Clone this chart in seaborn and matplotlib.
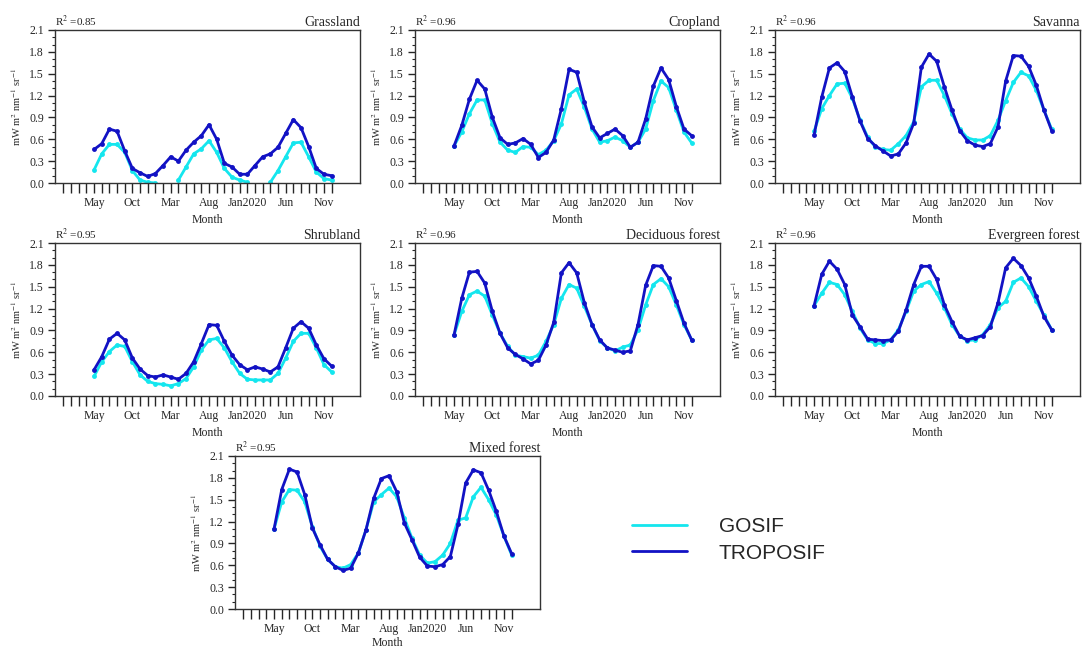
import numpy as np
import pandas as pd
import matplotlib
matplotlib.use('Agg')
import matplotlib.pyplot as plt
from matplotlib.ticker import MultipleLocator, FixedLocator
from matplotlib.lines import Line2D
import seaborn as sns

# ==================== data ====================
# month index: 0 = Jan 2018 ... 35 = Dec 2020, series run May 2018 - Dec 2020
months = list(range(4, 36))
tick_pos = [4, 9, 14, 19, 24, 29, 34]
tick_labels = ['May', 'Oct', 'Mar', 'Aug', 'Jan2020', 'Jun', 'Nov']

land_types = ['Grassland', 'Cropland', 'Savanna', 'Shrubland',
              'Deciduous forest', 'Evergreen forest', 'Mixed forest']
r2_values = [0.85, 0.96, 0.96, 0.95, 0.96, 0.96, 0.95]

nan = np.nan
gosif_grassland = [0.18, 0.40, 0.53, 0.53, 0.42, 0.17, 0.04, 0.01, 0.00, nan, nan, 0.04,
                   0.22, 0.40, 0.47, 0.58, 0.42, 0.20, 0.08, 0.04, 0.01, nan, nan, 0.01,
                   0.17, 0.36, 0.55, 0.56, 0.36, 0.15, 0.06, 0.04]
tropo_grassland = [0.46, 0.54, 0.74, 0.71, 0.44, 0.20, 0.14, 0.09, 0.13, 0.24, 0.36, 0.30,
                   0.45, 0.56, 0.65, 0.80, 0.60, 0.27, 0.22, 0.12, 0.12, 0.24, 0.36, 0.40,
                   0.49, 0.68, 0.87, 0.76, 0.50, 0.20, 0.12, 0.10]

gosif_cropland = [0.51, 0.70, 0.95, 1.14, 1.14, 0.81, 0.56, 0.45, 0.42, 0.50, 0.49, 0.39,
                  0.45, 0.58, 0.81, 1.21, 1.29, 1.04, 0.74, 0.56, 0.58, 0.63, 0.58, 0.49,
                  0.56, 0.74, 1.13, 1.40, 1.31, 1.00, 0.70, 0.55]
tropo_cropland = [0.51, 0.79, 1.15, 1.41, 1.29, 0.90, 0.62, 0.53, 0.55, 0.61, 0.53, 0.35,
                  0.42, 0.59, 1.02, 1.56, 1.52, 1.11, 0.77, 0.62, 0.68, 0.74, 0.65, 0.49,
                  0.56, 0.88, 1.33, 1.58, 1.42, 1.05, 0.74, 0.65]

gosif_savanna = [0.71, 1.02, 1.20, 1.36, 1.37, 1.16, 0.86, 0.63, 0.49, 0.46, 0.45, 0.54,
                 0.65, 0.84, 1.32, 1.41, 1.41, 1.20, 0.95, 0.74, 0.62, 0.59, 0.59, 0.65,
                 0.86, 1.13, 1.38, 1.52, 1.47, 1.27, 1.00, 0.74]
tropo_savanna = [0.66, 1.18, 1.58, 1.65, 1.53, 1.18, 0.85, 0.61, 0.51, 0.44, 0.37, 0.40,
                 0.55, 0.82, 1.59, 1.77, 1.67, 1.32, 1.00, 0.72, 0.58, 0.52, 0.50, 0.54,
                 0.77, 1.40, 1.75, 1.74, 1.60, 1.34, 1.00, 0.72]

gosif_shrubland = [0.27, 0.47, 0.61, 0.70, 0.68, 0.47, 0.29, 0.20, 0.17, 0.16, 0.14, 0.17,
                   0.24, 0.40, 0.63, 0.77, 0.79, 0.66, 0.47, 0.31, 0.23, 0.22, 0.22, 0.22,
                   0.31, 0.52, 0.75, 0.86, 0.86, 0.66, 0.43, 0.33]
tropo_shrubland = [0.36, 0.54, 0.78, 0.86, 0.77, 0.52, 0.37, 0.28, 0.26, 0.29, 0.26, 0.23,
                   0.31, 0.47, 0.72, 0.98, 0.97, 0.75, 0.56, 0.43, 0.36, 0.40, 0.37, 0.33,
                   0.40, 0.66, 0.93, 1.02, 0.93, 0.70, 0.51, 0.41]

gosif_deciduous = [0.84, 1.16, 1.39, 1.44, 1.37, 1.11, 0.86, 0.68, 0.56, 0.54, 0.52, 0.56,
                   0.75, 0.98, 1.34, 1.53, 1.48, 1.23, 0.98, 0.76, 0.66, 0.62, 0.67, 0.70,
                   0.91, 1.25, 1.53, 1.61, 1.50, 1.25, 0.98, 0.77]
tropo_deciduous = [0.84, 1.34, 1.70, 1.71, 1.55, 1.16, 0.86, 0.66, 0.57, 0.51, 0.44, 0.49,
                   0.70, 1.01, 1.69, 1.83, 1.69, 1.28, 0.98, 0.77, 0.66, 0.63, 0.60, 0.62,
                   0.98, 1.52, 1.79, 1.78, 1.62, 1.31, 1.00, 0.77]

gosif_evergreen = [1.24, 1.41, 1.56, 1.53, 1.39, 1.16, 0.93, 0.77, 0.72, 0.72, 0.77, 0.91,
                   1.16, 1.44, 1.53, 1.57, 1.41, 1.21, 0.98, 0.82, 0.76, 0.77, 0.84, 0.98,
                   1.21, 1.30, 1.56, 1.62, 1.50, 1.30, 1.11, 0.91]
tropo_evergreen = [1.24, 1.67, 1.85, 1.74, 1.53, 1.11, 0.95, 0.78, 0.77, 0.76, 0.77, 0.89,
                   1.18, 1.53, 1.78, 1.78, 1.60, 1.25, 1.02, 0.82, 0.77, 0.80, 0.83, 0.95,
                   1.28, 1.76, 1.89, 1.79, 1.62, 1.37, 1.09, 0.91]

gosif_mixed = [1.10, 1.47, 1.64, 1.63, 1.47, 1.13, 0.86, 0.68, 0.58, 0.56, 0.61, 0.77,
               1.09, 1.47, 1.57, 1.66, 1.54, 1.25, 0.97, 0.74, 0.63, 0.65, 0.74, 0.90,
               1.22, 1.25, 1.54, 1.67, 1.50, 1.29, 1.00, 0.74]
tropo_mixed = [1.10, 1.64, 1.92, 1.88, 1.57, 1.11, 0.88, 0.68, 0.58, 0.53, 0.56, 0.77,
               1.09, 1.52, 1.79, 1.83, 1.61, 1.18, 0.95, 0.71, 0.59, 0.58, 0.61, 0.72,
               1.16, 1.73, 1.91, 1.87, 1.63, 1.34, 1.00, 0.76]

gosif_all = [gosif_grassland, gosif_cropland, gosif_savanna, gosif_shrubland,
             gosif_deciduous, gosif_evergreen, gosif_mixed]
tropo_all = [tropo_grassland, tropo_cropland, tropo_savanna, tropo_shrubland,
             tropo_deciduous, tropo_evergreen, tropo_mixed]

# ==================== style ====================
sns.set_style('ticks')
plt.rcParams['font.family'] = ['Liberation Serif', 'DejaVu Serif']
plt.rcParams['mathtext.fontset'] = 'stix'

colors = {'GOSIF': '#14e6ee', 'TROPOSIF': '#1212c4'}

W, H = 1083, 650
fig = plt.figure(figsize=(W / 100, H / 100), dpi=100)

# panel boxes in pixels: left, top, right, bottom
boxes = [(55, 30, 360, 183), (415, 30, 720, 183), (775, 30, 1080, 183),
         (55, 243, 360, 396), (415, 243, 720, 396), (775, 243, 1080, 396),
         (235, 456, 540, 609)]

for k, name in enumerate(land_types):
    l, t, r, b = boxes[k]
    ax = fig.add_axes([l / W, 1 - b / H, (r - l) / W, (b - t) / H])

    df = pd.concat([
        pd.DataFrame({'month': months, 'value': gosif_all[k], 'product': 'GOSIF'}),
        pd.DataFrame({'month': months, 'value': tropo_all[k], 'product': 'TROPOSIF'}),
    ], ignore_index=True)
    # split at missing values so the gaps stay open
    df['seg'] = df.groupby('product')['value'].transform(lambda s: s.isna().cumsum())
    df['unit'] = df['product'] + df['seg'].astype(str)
    df = df.dropna()

    sns.lineplot(data=df, x='month', y='value', hue='product', units='unit',
                 estimator=None, palette=colors, hue_order=['GOSIF', 'TROPOSIF'],
                 marker='o', markersize=3.5, markeredgewidth=0, linewidth=2,
                 legend=False, ax=ax)

    ax.set_xlim(-1.1, 38.7)
    ax.set_ylim(0, 2.1)
    ax.xaxis.set_major_locator(FixedLocator(tick_pos))
    ax.set_xticklabels(tick_labels)
    ax.xaxis.set_minor_locator(FixedLocator(list(range(0, 36))))
    ax.yaxis.set_major_locator(MultipleLocator(0.3))
    ax.yaxis.set_minor_locator(MultipleLocator(0.1))
    ax.yaxis.set_major_formatter(plt.FormatStrFormatter('%.1f'))
    ax.tick_params(axis='x', which='both', direction='out', length=7, width=1,
                   labelsize=8.5, pad=3)
    ax.tick_params(axis='y', which='major', direction='out', length=5, width=1,
                   labelsize=8.5, pad=3)
    ax.tick_params(axis='y', which='minor', direction='out', length=2.5, width=0.8)
    for sp in ax.spines.values():
        sp.set_visible(True)
        sp.set_linewidth(1.0)
        sp.set_color('#333333')

    # bottom panel sits at the figure edge, keep its label inside
    ax.set_xlabel('Month', fontsize=8.5, labelpad=4 if k < 6 else 1.5)
    ax.set_ylabel(r'mW m$^{2}$ nm$^{-1}$ sr$^{-1}$', fontsize=7.5, labelpad=4)
    ax.set_title(r'R$^2$ =' + f'{r2_values[k]:.2f}', loc='left', fontsize=8, pad=3)
    ax.set_title(name, loc='right', fontsize=10, pad=3)

handles = [Line2D([], [], color=colors['GOSIF'], lw=2),
           Line2D([], [], color=colors['TROPOSIF'], lw=2)]
fig.legend(handles, ['GOSIF', 'TROPOSIF'], loc='center left',
           bbox_to_anchor=(622 / W, 1 - 540 / H), frameon=False, borderpad=0,
           handlelength=2.6, handletextpad=1.55, labelspacing=0.35,
           prop={'family': 'Liberation Sans', 'size': 15})

fig.savefig('out.png', dpi=100)
